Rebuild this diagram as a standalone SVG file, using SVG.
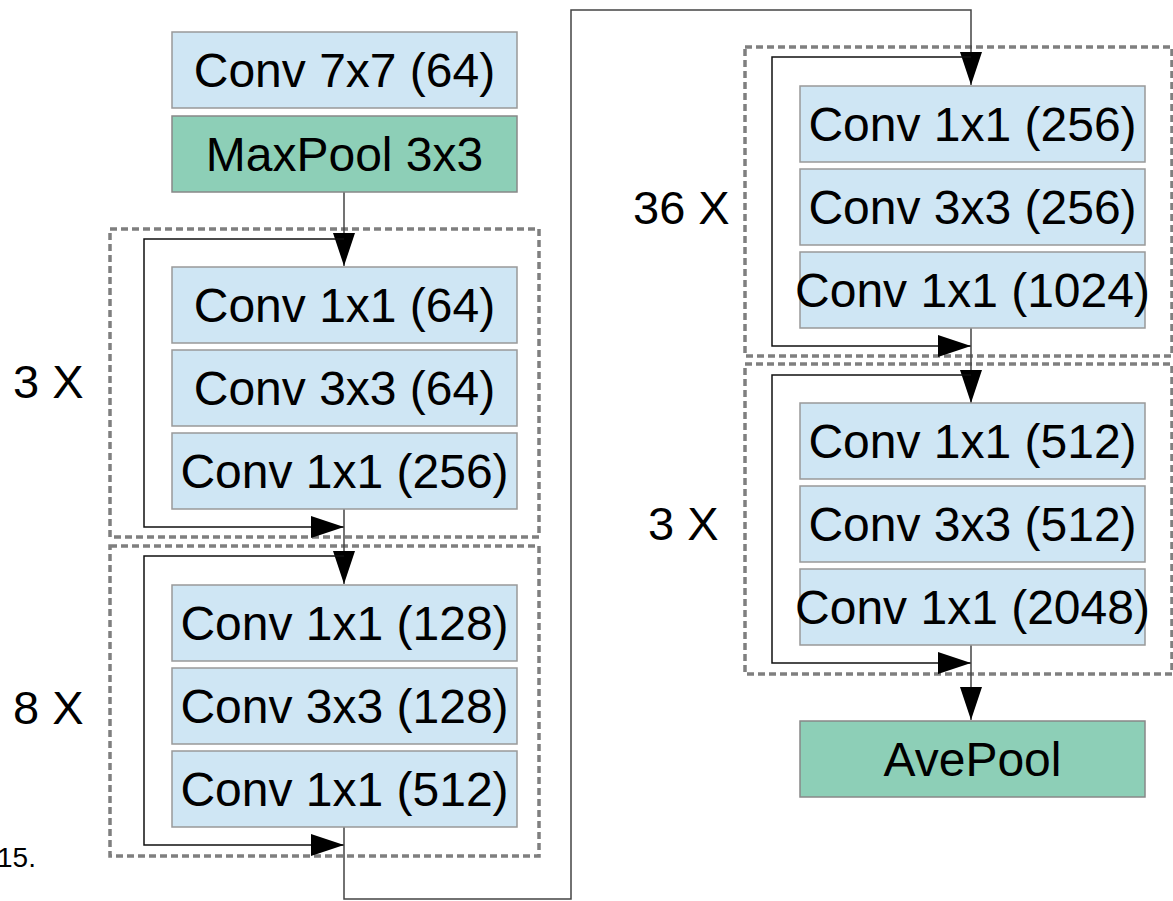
<svg xmlns="http://www.w3.org/2000/svg" width="1173" height="901" viewBox="0 0 1173 901">
  <style>
    .conv { fill: #cfe6f4; stroke: #999999; stroke-width: 1.5; }
    .pool { fill: #8dcfb7; stroke: #888888; stroke-width: 1.5; }
    .lbl { font-family: "Liberation Sans", Arial, sans-serif; font-size: 48px; fill: #000; text-anchor: middle; }
    .rep { font-family: "Liberation Sans", Arial, sans-serif; font-size: 47px; fill: #000; }
    .stage { fill: none; stroke: #7f7f7f; stroke-width: 3.5; stroke-dasharray: 7 4; }
    .flow { fill: none; stroke: #444; stroke-width: 1.5; }
    .skip { fill: none; stroke: #111; stroke-width: 1.5; }
  </style>
  <defs>
    <marker id="head" markerUnits="userSpaceOnUse" markerWidth="35" markerHeight="23" refX="33" refY="11" orient="auto">
      <path d="M0,0 L33,11 L0,22 Z" fill="#000"/>
    </marker>
  </defs>
  <rect width="1173" height="901" fill="#ffffff"/>

  <!-- stage outlines -->
  <g id="stages">
    <rect class="stage" x="110" y="229" width="429" height="308"/>
    <rect class="stage" x="110" y="546" width="429" height="310"/>
    <rect class="stage" x="745" y="47" width="427" height="309"/>
    <rect class="stage" x="745" y="364" width="427" height="310"/>
  </g>

  <!-- connectors -->
  <g id="connectors">
    <path class="flow" d="M344,192 V266" marker-end="url(#head)"/>
    <path class="skip" d="M344,239 H144 V527 H344" marker-end="url(#head)"/>
    <path class="flow" d="M344,509 V584" marker-end="url(#head)"/>
    <path class="skip" d="M344,556 H144 V845 H344" marker-end="url(#head)"/>
    <path class="flow" d="M344,827 V899 H571 V10 H971 V85" marker-end="url(#head)"/>
    <path class="skip" d="M971,57 H772 V346 H971" marker-end="url(#head)"/>
    <path class="flow" d="M971,328 V403" marker-end="url(#head)"/>
    <path class="skip" d="M971,375 H772 V663 H971" marker-end="url(#head)"/>
    <path class="flow" d="M971,645 V720" marker-end="url(#head)"/>
  </g>

  <!-- stem -->
  <g id="conv7x7">
    <rect class="conv" x="172" y="32" width="345" height="76"/>
    <text class="lbl" x="344.5" y="87">Conv 7x7 (64)</text>
  </g>
  <g id="maxpool">
    <rect class="pool" x="172" y="116" width="345" height="76"/>
    <text class="lbl" x="344.5" y="171">MaxPool 3x3</text>
  </g>

  <!-- stage 1 -->
  <g id="s1-conv1">
    <rect class="conv" x="172" y="267" width="345" height="76"/>
    <text class="lbl" x="344.5" y="322">Conv 1x1 (64)</text>
  </g>
  <g id="s1-conv2">
    <rect class="conv" x="172" y="350" width="345" height="76"/>
    <text class="lbl" x="344.5" y="405">Conv 3x3 (64)</text>
  </g>
  <g id="s1-conv3">
    <rect class="conv" x="172" y="433" width="345" height="76"/>
    <text class="lbl" x="344.5" y="488">Conv 1x1 (256)</text>
  </g>

  <!-- stage 2 -->
  <g id="s2-conv1">
    <rect class="conv" x="172" y="585" width="345" height="76"/>
    <text class="lbl" x="344.5" y="640">Conv 1x1 (128)</text>
  </g>
  <g id="s2-conv2">
    <rect class="conv" x="172" y="668" width="345" height="76"/>
    <text class="lbl" x="344.5" y="723">Conv 3x3 (128)</text>
  </g>
  <g id="s2-conv3">
    <rect class="conv" x="172" y="751" width="345" height="76"/>
    <text class="lbl" x="344.5" y="806">Conv 1x1 (512)</text>
  </g>

  <!-- stage 3 -->
  <g id="s3-conv1">
    <rect class="conv" x="800" y="86" width="345" height="76"/>
    <text class="lbl" x="972.5" y="141">Conv 1x1 (256)</text>
  </g>
  <g id="s3-conv2">
    <rect class="conv" x="800" y="169" width="345" height="76"/>
    <text class="lbl" x="972.5" y="224">Conv 3x3 (256)</text>
  </g>
  <g id="s3-conv3">
    <rect class="conv" x="800" y="252" width="345" height="76"/>
    <text class="lbl" x="972.5" y="307">Conv 1x1 (1024)</text>
  </g>

  <!-- stage 4 -->
  <g id="s4-conv1">
    <rect class="conv" x="800" y="403" width="345" height="76"/>
    <text class="lbl" x="972.5" y="458">Conv 1x1 (512)</text>
  </g>
  <g id="s4-conv2">
    <rect class="conv" x="800" y="486" width="345" height="76"/>
    <text class="lbl" x="972.5" y="541">Conv 3x3 (512)</text>
  </g>
  <g id="s4-conv3">
    <rect class="conv" x="800" y="569" width="345" height="76"/>
    <text class="lbl" x="972.5" y="624">Conv 1x1 (2048)</text>
  </g>

  <g id="avepool">
    <rect class="pool" x="800" y="721" width="345" height="76"/>
    <text class="lbl" x="972.5" y="776">AvePool</text>
  </g>

  <!-- repeat counts -->
  <g id="repeats">
    <text class="rep" x="13" y="398">3 X</text>
    <text class="rep" x="13" y="724">8 X</text>
    <text class="rep" x="633" y="224">36 X</text>
    <text class="rep" x="648" y="540">3 X</text>
  </g>

  <text x="-3" y="867" font-family="Liberation Sans, Arial, sans-serif" font-size="28" fill="#000">15.</text>
</svg>
